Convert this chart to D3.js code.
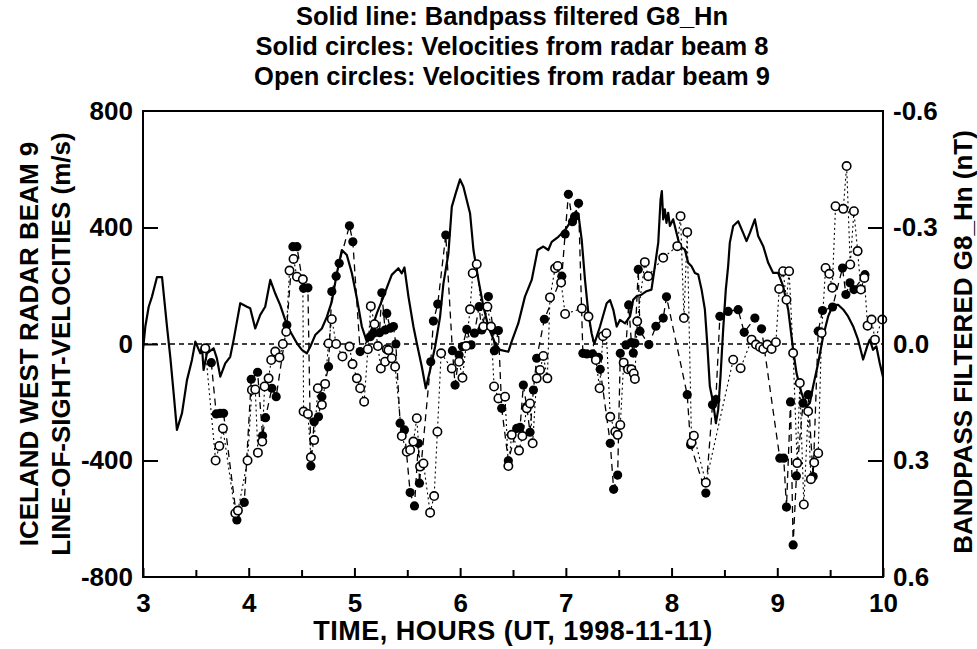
<!DOCTYPE html>
<html>
<head>
<meta charset="utf-8">
<script src="https://cdn.jsdelivr.net/npm/d3@7"></script>
<style>
  body { margin: 0; background: #fff; }
  text { font-family: "Liberation Sans", Arial, Helvetica, sans-serif; fill: #000; }
</style>
</head>
<body>
<div class="main_area"></div>
<script>
// bandpass filtered G8_Hn, [hour, nT]
const lineHn = [
  [3.000, 0.015], [3.022, -0.045], [3.054, -0.096], [3.085, -0.122], [3.101, -0.139], [3.132, -0.172],
  [3.180, -0.172], [3.227, -0.045], [3.258, 0.033], [3.290, 0.127], [3.321, 0.221], [3.369, 0.178],
  [3.416, 0.093], [3.463, 0.041], [3.495, -0.006], [3.542, 0.024], [3.558, 0.007], [3.573, 0.067],
  [3.605, 0.024], [3.668, 0.011], [3.699, 0.037], [3.731, 0.084], [3.778, 0.050], [3.825, 0.033],
  [3.857, -0.010], [3.888, -0.057], [3.920, -0.105], [3.983, -0.096], [4.014, -0.092], [4.062, -0.040],
  [4.109, -0.075], [4.156, -0.096], [4.204, -0.165], [4.251, -0.130], [4.298, -0.100], [4.345, -0.062],
  [4.393, -0.032], [4.456, -0.002], [4.503, 0.015], [4.550, 0.024], [4.582, 0.007], [4.629, -0.023],
  [4.692, -0.040], [4.739, -0.070], [4.786, -0.109], [4.834, -0.182], [4.881, -0.242], [4.928, -0.229],
  [4.976, -0.182], [5.023, -0.118], [5.070, -0.045], [5.117, -0.006], [5.149, -0.027], [5.212, -0.079],
  [5.275, -0.122], [5.322, -0.156], [5.353, -0.178], [5.416, -0.195], [5.448, -0.182], [5.473, -0.197],
  [5.511, -0.122], [5.558, -0.045], [5.590, -0.002], [5.637, 0.058], [5.675, 0.114], [5.716, 0.067],
  [5.763, 0.007], [5.810, -0.070], [5.842, -0.156], [5.889, -0.233], [5.921, -0.353], [5.958, -0.388],
  [5.999, -0.424], [6.031, -0.405], [6.094, -0.336], [6.126, -0.242], [6.173, -0.165], [6.220, -0.096],
  [6.267, -0.045], [6.330, -0.002], [6.377, 0.015], [6.456, 0.020], [6.487, -0.006], [6.550, -0.053],
  [6.613, -0.122], [6.677, -0.165], [6.733, -0.242], [6.787, -0.251], [6.834, -0.242], [6.866, -0.263],
  [6.929, -0.276], [6.992, -0.293], [7.055, -0.319], [7.093, -0.341], [7.118, -0.336], [7.150, -0.268],
  [7.181, -0.165], [7.213, -0.079], [7.244, -0.027], [7.269, 0.000], [7.323, -0.045], [7.386, -0.105],
  [7.418, -0.113], [7.449, -0.088], [7.481, -0.045], [7.512, -0.062], [7.560, -0.053], [7.607, -0.071],
  [7.637, -0.114], [7.669, -0.123], [7.716, -0.127], [7.763, -0.136], [7.810, -0.140], [7.842, -0.200],
  [7.874, -0.261], [7.896, -0.372], [7.908, -0.394], [7.921, -0.321], [7.936, -0.347], [7.952, -0.312],
  [7.968, -0.338], [7.984, -0.304], [8.015, -0.321], [8.047, -0.286], [8.078, -0.252], [8.126, -0.243],
  [8.157, -0.209], [8.189, -0.200], [8.221, -0.183], [8.252, -0.179], [8.284, -0.140], [8.315, -0.089],
  [8.337, -0.003], [8.362, 0.109], [8.394, 0.152], [8.419, 0.204], [8.441, 0.169], [8.463, 0.083],
  [8.488, -0.037], [8.513, -0.140], [8.535, -0.200], [8.551, -0.261], [8.583, -0.304], [8.630, -0.316],
  [8.677, -0.286], [8.709, -0.265], [8.741, -0.286], [8.788, -0.321], [8.819, -0.278], [8.867, -0.252],
  [8.914, -0.209], [8.961, -0.183], [9.008, -0.183], [9.055, -0.149], [9.103, -0.089], [9.150, 0.015],
  [9.182, 0.075], [9.229, 0.126], [9.276, 0.161], [9.308, 0.152], [9.339, 0.109], [9.387, 0.049],
  [9.434, -0.020], [9.481, -0.071], [9.528, -0.101], [9.575, -0.101], [9.623, -0.089], [9.670, -0.071],
  [9.717, -0.046], [9.764, -0.011], [9.812, 0.040], [9.850, 0.006], [9.875, -0.011], [9.906, 0.015],
  [9.937, 0.006], [9.969, 0.049], [10.0, 0.085]
];

// radar beam 8 velocities (solid circles), [hour, m/s]
const beam8 = [
  [3.646, -64], [3.693, -240], [3.731, -238], [3.762, -238], [3.888, -604], [3.958, -544],
  [4.024, -121], [4.084, -97], [4.131, -315], [4.159, -253], [4.219, -152], [4.260, -181],
  [4.361, 65], [4.418, 334], [4.456, 334], [4.519, 191], [4.560, 193], [4.588, -419],
  [4.619, -267], [4.660, -250], [4.692, -181], [4.755, -78], [4.786, 180], [4.827, 233],
  [4.856, 277], [4.953, 406], [4.985, 351], [5.054, -26], [5.149, 25], [5.180, 37],
  [5.237, 39], [5.259, 176], [5.290, 48], [5.306, 105], [5.338, 54], [5.369, 60],
  [5.392, 0], [5.432, -272], [5.473, -295], [5.527, -510], [5.568, -556], [5.605, -341],
  [5.615, -478], [5.722, -61], [5.747, 79], [5.788, 137], [5.864, 374], [5.927, -23],
  [5.952, -141], [5.990, -38], [6.022, -9], [6.063, 50], [6.104, -3], [6.135, 37],
  [6.179, 128], [6.204, 48], [6.267, 163], [6.314, 48], [6.324, -23], [6.362, 46],
  [6.393, -221], [6.456, -401], [6.535, -290], [6.567, -286], [6.598, -141], [6.630, -215],
  [6.661, -303], [6.693, -158], [6.724, -49], [6.797, 85], [6.962, 233], [6.993, 378],
  [7.024, 514], [7.063, 420], [7.082, 437], [7.120, 483], [7.161, -32], [7.199, -34],
  [7.253, -34], [7.309, -46], [7.325, -87], [7.420, -341], [7.452, -499], [7.490, -450],
  [7.515, -32], [7.569, -3], [7.594, 134], [7.620, 5], [7.638, -31], [7.653, 3],
  [7.685, 256], [7.701, 44], [7.785, -2], [7.852, 61], [7.921, 89], [7.952, 162],
  [8.148, -174], [8.180, -346], [8.324, -512], [8.387, -209], [8.419, -191], [8.457, 95],
  [8.535, 112], [8.630, 118], [8.687, 40], [8.788, 89], [8.851, 52], [9.024, -392],
  [9.061, -392], [9.087, -560], [9.125, -199], [9.150, -690], [9.181, -453], [9.244, -203],
  [9.292, -174], [9.339, -455], [9.387, 44], [9.428, 115], [9.523, 127], [9.617, 261],
  [9.649, 170], [9.687, 210], [9.725, 187], [9.829, 238]
];

// radar beam 9 velocities (open circles), [hour, m/s]
const beam9 = [
  [3.589, -15], [3.687, -400], [3.722, -350], [3.756, -290], [3.873, -581], [3.898, -572],
  [3.989, -400], [4.030, -158], [4.062, -156], [4.087, -373], [4.128, -335], [4.150, -146],
  [4.188, -118], [4.213, -55], [4.251, -26], [4.291, -46], [4.323, 0], [4.355, 42],
  [4.386, 252], [4.424, 292], [4.456, 231], [4.512, 222], [4.519, -232], [4.560, -240],
  [4.588, -389], [4.619, -330], [4.654, -152], [4.692, -209], [4.723, -137], [4.755, 2],
  [4.786, 85], [4.827, 0], [4.887, -43], [4.953, -9], [4.982, -69], [5.023, -118],
  [5.054, -152], [5.092, -198], [5.127, -18], [5.155, 130], [5.190, 68], [5.222, -7],
  [5.250, -84], [5.290, -61], [5.306, -18], [5.322, -21], [5.353, -49], [5.385, -78],
  [5.448, -316], [5.495, -370], [5.527, -364], [5.558, -335], [5.590, -255], [5.621, -421],
  [5.653, -410], [5.716, -579], [5.754, -522], [5.785, -301], [5.820, -32], [5.921, -84],
  [5.990, -61], [6.022, -116], [6.056, -7], [6.094, 119], [6.119, 243], [6.157, 274],
  [6.220, 60], [6.258, 128], [6.292, 60], [6.321, -146], [6.362, -187], [6.425, -181],
  [6.456, -419], [6.488, -312], [6.557, -366], [6.589, -316], [6.630, -221], [6.661, -204],
  [6.686, -341], [6.724, -118], [6.756, -89], [6.787, -41], [6.825, -118], [6.850, 160],
  [6.898, 260], [6.923, 268], [6.955, 211], [6.993, 103], [7.151, 122], [7.214, 94],
  [7.284, -55], [7.319, -152], [7.351, 27], [7.383, 37], [7.420, -250], [7.468, -301],
  [7.490, -312], [7.515, -278], [7.547, -64], [7.588, -87], [7.620, -87], [7.642, -101],
  [7.653, -120], [7.675, 78], [7.747, 281], [7.779, 233], [7.921, 296], [8.054, 336],
  [8.085, 439], [8.117, 89], [8.148, 384], [8.189, -338], [8.211, -315], [8.324, -476],
  [8.583, -54], [8.653, -83], [8.757, 15], [8.798, -2], [8.836, -10], [8.867, -17],
  [8.905, -2], [8.946, -17], [8.987, 6], [9.018, 189], [9.055, 250], [9.087, 152],
  [9.112, 250], [9.150, -31], [9.188, -409], [9.213, -134], [9.251, -551], [9.292, -231],
  [9.318, -464], [9.349, -407], [9.387, -375], [9.419, 38], [9.457, 261], [9.492, 241],
  [9.520, 193], [9.551, 473], [9.624, 464], [9.656, 611], [9.690, 273], [9.725, 456],
  [9.760, 319], [9.791, 187], [9.823, 227], [9.854, 63], [9.892, 84], [9.924, 15], [9.993, 84]
];

const titleLines = [
  "Solid line: Bandpass filtered G8_Hn",
  "Solid circles: Velocities from radar beam 8",
  "Open circles: Velocities from radar beam 9"
];
const leftTicks = [-800, -400, 0, 400, 800];
const rightTicks = [-0.6, -0.3, 0.0, 0.3, 0.6];
const hourTicks = [3, 4, 5, 6, 7, 8, 9, 10];
const halfHourTicks = [3.5, 4.5, 5.5, 6.5, 7.5, 8.5, 9.5];

const W = 977, H = 649;
const margin = {top: 111, right: 94, bottom: 72, left: 143};
const width = W - margin.left - margin.right;
const height = H - margin.top - margin.bottom;

const svg = d3.select(".main_area")
  .append("svg")
  .attr("width", W)
  .attr("height", H);

const x = d3.scaleLinear().domain([3, 10]).range([0, width]);
const yL = d3.scaleLinear().domain([-800, 800]).range([height, 0]);
const yR = d3.scaleLinear().domain([0.6, -0.6]).range([height, 0]);

const plot = svg.append("g")
  .attr("transform", "translate(" + [margin.left, margin.top] + ")");

// zero line
plot.append("line")
  .attr("x1", 0).attr("x2", width)
  .attr("y1", yL(0)).attr("y2", yL(0))
  .attr("stroke", "#000")
  .attr("stroke-width", 1.6)
  .attr("stroke-dasharray", "5,4");

// dashed connectors
const b8 = d3.sort(beam8, d => d[0]);
const b9 = d3.sort(beam9, d => d[0]);
const velLine = d3.line().x(d => x(d[0])).y(d => yL(d[1]));

plot.append("path")
  .attr("d", velLine(b9))
  .attr("fill", "none")
  .attr("stroke", "#000")
  .attr("stroke-width", 1.1)
  .attr("stroke-dasharray", "2,3");

plot.append("path")
  .attr("d", velLine(b8))
  .attr("fill", "none")
  .attr("stroke", "#000")
  .attr("stroke-width", 1.3)
  .attr("stroke-dasharray", "7,5");

// magnetometer line
plot.append("path")
  .attr("d", d3.line().x(d => x(d[0])).y(d => yR(d[1]))(lineHn))
  .attr("fill", "none")
  .attr("stroke", "#000")
  .attr("stroke-width", 2.2)
  .attr("stroke-linejoin", "round");

// circles
plot.append("g").selectAll("circle")
  .data(b8)
  .join("circle")
    .attr("cx", d => x(d[0]))
    .attr("cy", d => yL(d[1]))
    .attr("r", 4.6)
    .attr("fill", "#000");

plot.append("g").selectAll("circle")
  .data(b9)
  .join("circle")
    .attr("cx", d => x(d[0]))
    .attr("cy", d => yL(d[1]))
    .attr("r", 4.2)
    .attr("fill", "#fff")
    .attr("stroke", "#000")
    .attr("stroke-width", 1.6);

// axes frame
plot.append("rect")
  .attr("width", width)
  .attr("height", height)
  .attr("fill", "none")
  .attr("stroke", "#000")
  .attr("stroke-width", 2);

plot.append("g")
  .attr("transform", "translate(0," + height + ")")
  .call(d3.axisBottom(x).tickValues(hourTicks).tickSize(-9).tickPadding(17).tickFormat(d => String(d)));
plot.append("g")
  .attr("transform", "translate(0," + height + ")")
  .call(d3.axisBottom(x).tickValues(halfHourTicks).tickSize(-7).tickFormat(""));

plot.append("g")
  .call(d3.axisLeft(yL).tickValues(leftTicks).tickSize(0).tickPadding(10).tickFormat(d => String(d)));
plot.append("g")
  .call(d3.axisLeft(yL).tickValues([-400, 0, 400]).tickSize(-15).tickFormat(""));

const yAxisR = plot.append("g")
  .attr("transform", "translate(" + width + ",0)")
  .call(d3.axisRight(yR).tickValues(rightTicks).tickSize(0).tickPadding(10).tickFormat(d => d.toFixed(1)));
plot.append("g")
  .attr("transform", "translate(" + width + ",0)")
  .call(d3.axisRight(yR).tickValues([-0.3, 0.3]).tickSize(-15).tickFormat(""));

plot.selectAll(".domain").remove();
plot.selectAll(".tick line").attr("stroke", "#000").attr("stroke-width", 2);
plot.selectAll(".tick text")
  .style("font-family", "'Liberation Sans', Arial, sans-serif")
  .style("font-size", "26px")
  .style("font-weight", "bold")
  .attr("fill", "#000");

// titles
svg.append("g").selectAll("text")
  .data(titleLines)
  .join("text")
    .attr("x", 512)
    .attr("y", (d, i) => 25 + i * 30)
    .attr("text-anchor", "middle")
    .style("font-size", "25.5px")
    .style("font-weight", "bold")
    .text(d => d);

svg.append("text")
  .attr("x", margin.left + width / 2)
  .attr("y", 640)
  .attr("text-anchor", "middle")
  .style("font-size", "27px")
  .style("font-weight", "bold")
  .style("letter-spacing", "0.5px")
  .text("TIME, HOURS (UT, 1998-11-11)");

const leftLabel = svg.append("text")
  .attr("transform", "translate(38,344) rotate(-90)")
  .attr("text-anchor", "middle")
  .style("font-size", "26px")
  .style("font-weight", "bold");
leftLabel.append("tspan").attr("x", 0).attr("y", 0).text("ICELAND WEST RADAR BEAM 9");
leftLabel.append("tspan").attr("x", 0).attr("y", 32).text("LINE-OF-SIGHT-VELOCITIES (m/s)");

svg.append("text")
  .attr("transform", "translate(972,342) rotate(-90)")
  .attr("text-anchor", "middle")
  .style("font-size", "26px")
  .style("font-weight", "bold")
  .text("BANDPASS FILTERED G8_Hn (nT)");
</script>
</body>
</html>
